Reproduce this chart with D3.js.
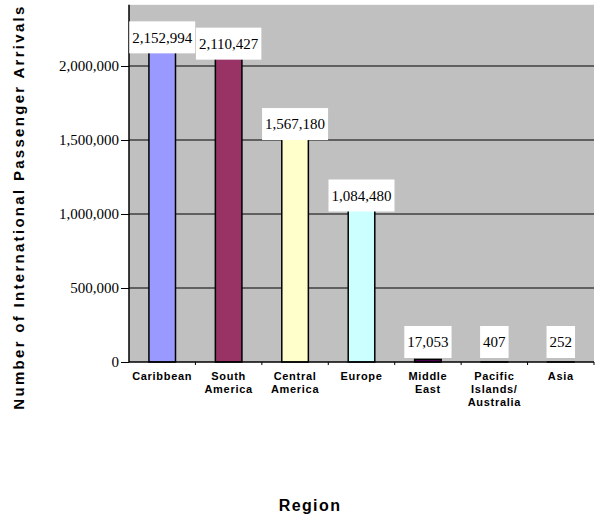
<!DOCTYPE html>
<html>
<head>
<meta charset="utf-8">
<script src="https://cdn.jsdelivr.net/npm/d3@7"></script>
<style>
  body { margin: 0; background: #fff; }
  svg { display: block; }
</style>
</head>
<body>
<div id="wrapper"></div>
<script>
// 1. Data
const regions = [
  ["Caribbean"],
  ["South", "America"],
  ["Central", "America"],
  ["Europe"],
  ["Middle", "East"],
  ["Pacific", "Islands/", "Australia"],
  ["Asia"],
]
const arrivals = [2152994, 2110427, 1567180, 1084480, 17053, 407, 252]
const barColors = ["#9999ff", "#993366", "#ffffcc", "#ccffff", "#660066", "#ff8080", "#0066cc"]
const yTicks = [0, 500000, 1000000, 1500000, 2000000]

const data = arrivals.map((v, i) => ({ lines: regions[i], value: v, color: barColors[i] }))

function drawChart() {
  // 2. Dimensions
  let dimensions = {
    width: 595,
    height: 516,
    plotLeft: 129,
    plotRight: 594,
    plotTop: 6.8,
    plotBottom: 362,
  }

  // 3. Canvas
  const wrapper = d3.select("#wrapper")
    .append("svg")
      .attr("width", dimensions.width)
      .attr("height", dimensions.height)

  // 4. Scales
  const xScale = d3.scaleBand()
    .domain(d3.range(data.length))
    .range([dimensions.plotLeft, dimensions.plotRight])
    .paddingInner(0.6)
    .paddingOuter(0.3)

  const yScale = d3.scaleLinear()
    .domain([0, 2400000])
    .range([dimensions.plotBottom, dimensions.plotTop])

  // plot background
  wrapper.append("rect")
      .attr("x", dimensions.plotLeft)
      .attr("y", dimensions.plotTop - 2)
      .attr("width", dimensions.plotRight - dimensions.plotLeft)
      .attr("height", dimensions.plotBottom - dimensions.plotTop + 2)
      .attr("fill", "#c0c0c0")

  // gridlines
  wrapper.append("g")
    .selectAll("line")
    .data(yTicks.filter(d => d > 0))
    .join("line")
      .attr("x1", dimensions.plotLeft)
      .attr("x2", dimensions.plotRight)
      .attr("y1", d => yScale(d))
      .attr("y2", d => yScale(d))
      .attr("stroke", "#000")
      .attr("stroke-width", 1)

  // 5. Bars
  wrapper.append("g")
    .selectAll("rect")
    .data(data)
    .join("rect")
      .attr("x", (d, i) => xScale(i))
      .attr("width", xScale.bandwidth())
      .attr("y", d => yScale(d.value))
      .attr("height", d => yScale(0) - yScale(d.value))
      .attr("fill", d => d.color)
      .attr("stroke", "#000")
      .attr("stroke-width", 1.5)

  // 6. Axes
  const yAxis = d3.axisLeft(yScale)
    .tickValues(yTicks)
    .tickSize(8)
    .tickPadding(2)
    .tickFormat(d3.format(","))

  const yAxisGroup = wrapper.append("g")
      .attr("transform", `translate(${dimensions.plotLeft},0)`)
      .call(yAxis)
  yAxisGroup.select(".domain")
      .attr("d", `M0,${dimensions.plotTop - 2}V${dimensions.plotBottom}`)
      .attr("stroke-width", 1.5)
  yAxisGroup.selectAll("text")
      .style("font-family", "'Liberation Serif', 'Times New Roman', serif")
      .style("font-size", "15px")
      .attr("fill", "#000")

  // x axis line and boundary ticks
  const xAxisGroup = wrapper.append("g")
  xAxisGroup.append("line")
      .attr("x1", dimensions.plotLeft)
      .attr("x2", dimensions.plotRight)
      .attr("y1", yScale(0))
      .attr("y2", yScale(0))
      .attr("stroke", "#000")
      .attr("stroke-width", 1.5)
  xAxisGroup.selectAll(".bound")
    .data(d3.range(1, data.length + 1))
    .join("line")
      .attr("class", "bound")
      .attr("x1", i => dimensions.plotLeft + xScale.step() * i)
      .attr("x2", i => dimensions.plotLeft + xScale.step() * i)
      .attr("y1", yScale(0))
      .attr("y2", yScale(0) + 3)
      .attr("stroke", "#000")

  // category labels
  const catLabels = xAxisGroup.selectAll(".cat")
    .data(data)
    .join("text")
      .attr("class", "cat")
      .attr("x", (d, i) => xScale(i) + xScale.bandwidth() / 2)
      .attr("y", 380)
      .attr("text-anchor", "middle")
      .style("font-family", "'Liberation Sans', Arial, sans-serif")
      .style("font-weight", "bold")
      .style("font-size", "11px")
      .style("letter-spacing", "0.7px")
  catLabels.selectAll("tspan")
    .data(d => d.lines)
    .join("tspan")
      .attr("x", function() { return this.parentNode.getAttribute("x") })
      .attr("dy", (d, i) => i === 0 ? 0 : 13)
      .text(d => d)

  // 7. Data labels (white boxes)
  const labelGroup = wrapper.append("g")
    .selectAll("g")
    .data(data)
    .join("g")
      .attr("transform", (d, i) => {
        const bottom = Math.min(yScale(d.value) + 10, yScale(0) - 4)
        return `translate(${xScale(i) + xScale.bandwidth() / 2},${bottom - 16})`
      })

  const labelText = labelGroup.append("text")
      .attr("text-anchor", "middle")
      .attr("dy", "0.35em")
      .style("font-family", "'Liberation Serif', 'Times New Roman', serif")
      .style("font-size", "15px")
      .attr("fill", "#000")
      .text(d => d3.format(",")(d.value))

  labelText.each(function() {
    const w = this.getComputedTextLength()
    d3.select(this.parentNode).insert("rect", "text")
        .attr("x", -w / 2 - 3)
        .attr("y", -16)
        .attr("width", w + 6)
        .attr("height", 32)
        .attr("fill", "#fff")
  })

  // 8. Titles
  wrapper.append("text")
      .attr("transform", `translate(24,207) rotate(-90)`)
      .attr("text-anchor", "middle")
      .style("font-family", "'Liberation Sans', Arial, sans-serif")
      .style("font-weight", "bold")
      .style("font-size", "15px")
      .style("letter-spacing", "2.3px")
      .text("Number of International Passenger Arrivals")

  wrapper.append("text")
      .attr("x", 310)
      .attr("y", 511)
      .attr("text-anchor", "middle")
      .style("font-family", "'Liberation Sans', Arial, sans-serif")
      .style("font-weight", "bold")
      .style("font-size", "16px")
      .style("letter-spacing", "1.4px")
      .text("Region")
}

drawChart()
</script>
</body>
</html>
